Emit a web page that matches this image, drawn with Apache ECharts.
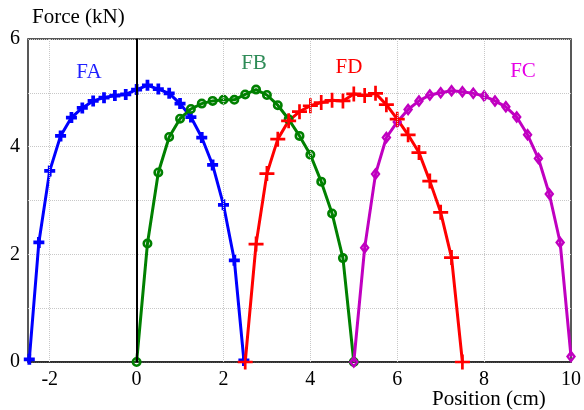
<!DOCTYPE html>
<html>
<head>
<meta charset="utf-8">
<script src="https://cdn.jsdelivr.net/npm/echarts@6/dist/echarts.min.js"></script>
<style>html,body{margin:0;padding:0;background:#fff}#c{width:584px;height:410px}</style>
</head>
<body>
<div id="c"></div>
<script>
// Data
const faX = [-2.47, -2.25, -2.0, -1.75, -1.5, -1.25, -1.0, -0.75, -0.5, -0.25, 0, 0.25, 0.5, 0.75, 1.0, 1.25, 1.5, 1.75, 2.0, 2.25, 2.47];
const faY = [0.05, 2.22, 3.55, 4.20, 4.54, 4.72, 4.85, 4.91, 4.95, 4.97, 5.06, 5.14, 5.07, 4.99, 4.80, 4.55, 4.17, 3.66, 2.92, 1.89, 0.03];
const fbX = [0, 0.25, 0.5, 0.75, 1.0, 1.25, 1.5, 1.75, 2.0, 2.25, 2.5, 2.75, 3.0, 3.25, 3.5, 3.75, 4.0, 4.25, 4.5, 4.75, 5.0];
const fbY = [0, 2.20, 3.52, 4.18, 4.52, 4.70, 4.80, 4.85, 4.87, 4.87, 4.97, 5.06, 4.96, 4.77, 4.51, 4.20, 3.85, 3.35, 2.76, 1.93, 0];
const fdX = [2.5, 2.75, 3.0, 3.25, 3.5, 3.75, 4.0, 4.25, 4.5, 4.75, 5.0, 5.25, 5.5, 5.75, 6.0, 6.25, 6.5, 6.75, 7.0, 7.25, 7.5];
const fdY = [0, 2.19, 3.50, 4.14, 4.48, 4.65, 4.76, 4.82, 4.86, 4.85, 4.98, 4.95, 4.99, 4.78, 4.51, 4.22, 3.89, 3.36, 2.78, 1.94, 0];
const fcX = [5.0, 5.25, 5.5, 5.75, 6.0, 6.25, 6.5, 6.75, 7.0, 7.25, 7.5, 7.75, 8.0, 8.25, 8.5, 8.75, 9.0, 9.25, 9.5, 9.75, 10.0];
const fcY = [0, 2.12, 3.49, 4.17, 4.46, 4.69, 4.85, 4.96, 5.00, 5.04, 5.02, 4.99, 4.94, 4.85, 4.74, 4.55, 4.22, 3.78, 3.12, 2.22, 0.1];
const xGridValues = [-2, 2, 4, 6, 8];
const zeroLineX = 0;
const seriesNames = ['FA', 'FB', 'FD', 'FC'];
const xTitle = 'Position (cm)';
const yTitle = 'Force (kN)';

const pairs = (xs, ys) => xs.map((x, i) => [x, ys[i]]);
const FONT = 'Liberation Serif';

const chart = echarts.init(document.getElementById('c'), null, {renderer: 'canvas'});
const plusThick = 'path://M3.3,0H6.7V3.3H10V6.7H6.7V10H3.3V6.7H0V3.3H3.3Z';
const plusThin = 'path://M4.1,0H5.9V4.1H10V5.9H5.9V10H4.1V5.9H0V4.1H4.1Z';
const ring = 'path://M5,0A5,5 0 1,1 5,10A5,5 0 1,1 5,0ZM5,2.6A2.4,2.4 0 1,0 5,7.4A2.4,2.4 0 1,0 5,2.6Z';
const diamondRing = 'path://M5,0L10,6.5L5,13L0,6.5ZM5,4.2L2.8,6.5L5,8.8L7.2,6.5Z';

chart.setOption({
  animation: false,
  backgroundColor: '#fff',
  grid: {left: 28, right: 12, top: 39, bottom: 48, show: true, borderColor: '#222', borderWidth: 1.5, backgroundColor: 'transparent'},
  xAxis: {
    type: 'value', min: -2.5, max: 10, interval: 0.5,
    axisLine: {show: true, lineStyle: {color: '#222', width: 1.5}},
    axisTick: {show: false},
    splitLine: {show: false},
    axisLabel: {
      margin: 8, color: '#000', fontFamily: FONT, fontSize: 20,
      formatter: v => (Math.abs(v % 2) < 1e-9 ? String(v) : '')
    }
  },
  yAxis: {
    type: 'value', min: 0, max: 6, interval: 1,
    axisLine: {show: true, lineStyle: {color: '#000', width: 1.5}},
    axisTick: {show: false},
    splitLine: {show: true, lineStyle: {color: '#c8c8c8', type: 'dotted', width: 1}},
    axisLabel: {
      margin: 8, color: '#000', fontFamily: FONT, fontSize: 20,
      formatter: v => (v % 2 === 0 ? String(v) : '')
    }
  },
  graphic: [
    {type: 'text', left: 32, top: 7, style: {text: yTitle, font: '21px "Liberation Serif"', fill: '#000'}},
    {type: 'text', left: 432, top: 389, style: {text: xTitle, font: '21px "Liberation Serif"', fill: '#000'}},
    {type: 'text', x: 89, y: 72, style: {text: seriesNames[0], font: '21px "Liberation Serif"', fill: '#1f1fff', align: 'center', verticalAlign: 'middle'}},
    {type: 'text', x: 254, y: 63, style: {text: seriesNames[1], font: '21px "Liberation Serif"', fill: '#2e8b57', align: 'center', verticalAlign: 'middle'}},
    {type: 'text', x: 349, y: 67, style: {text: seriesNames[2], font: '21px "Liberation Serif"', fill: '#ff0000', align: 'center', verticalAlign: 'middle'}},
    {type: 'text', x: 523, y: 71, style: {text: seriesNames[3], font: '21px "Liberation Serif"', fill: '#e600e6', align: 'center', verticalAlign: 'middle'}}
  ],
  series: [
    {
      type: 'line', data: [], silent: true,
      markLine: {
        silent: true, symbol: 'none', label: {show: false},
        lineStyle: {color: '#c8c8c8', type: 'dotted', width: 1},
        data: xGridValues.map(v => ({xAxis: v})).concat([
          {xAxis: zeroLineX, lineStyle: {color: '#000', type: 'solid', width: 2}}
        ])
      }
    },
    {
      name: 'FA', type: 'line', data: pairs(faX, faY), showAllSymbol: true,
      symbol: plusThick, symbolSize: 11,
      lineStyle: {color: '#0000ff', width: 3}, itemStyle: {color: '#0000ff'}
    },
    {
      name: 'FB', type: 'line', data: pairs(fbX, fbY), showAllSymbol: true,
      symbol: ring, symbolSize: 10,
      lineStyle: {color: '#008000', width: 3}, itemStyle: {color: '#008000'}
    },
    {
      name: 'FC', type: 'line', data: pairs(fcX, fcY), showAllSymbol: true,
      symbol: diamondRing, symbolSize: [10, 13],
      lineStyle: {color: '#c000c0', width: 3}, itemStyle: {color: '#c000c0'}
    },
    {
      name: 'FD', type: 'line', data: pairs(fdX, fdY), showAllSymbol: true,
      symbol: plusThin, symbolSize: 15,
      lineStyle: {color: '#ff0000', width: 3}, itemStyle: {color: '#ff0000'}
    }
  ]
});
</script>
</body>
</html>
